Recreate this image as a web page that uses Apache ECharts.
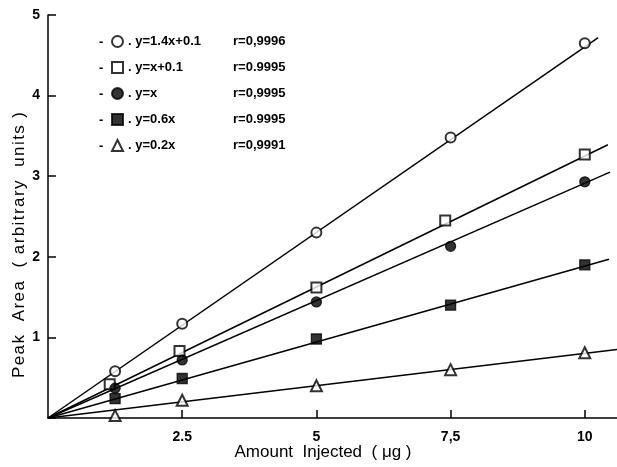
<!DOCTYPE html>
<html>
<head>
<meta charset="utf-8">
<script src="https://cdn.jsdelivr.net/npm/echarts@6/dist/echarts.min.js"></script>
<style>
  html, body { margin: 0; padding: 0; background: #fff; }
  #chart { width: 617px; height: 467px; }
</style>
</head>
<body>
<div id="chart"></div>
<script>
// x ticks and labels
const xTicks = [2.5, 5, 7.5, 10]
const xTickLabels = ['2.5', '5', '7,5', '10']
const yTickLabels = ['1', '2', '3', '4', '5']

// measured points, one array per series
const circleX = [1.25, 2.5, 5, 7.5, 10]
const circleY = [0.58, 1.17, 2.3, 3.48, 4.65]
const squareX = [1.15, 2.45, 5, 7.4, 10]
const squareY = [0.42, 0.83, 1.62, 2.45, 3.27]
const dotX = [1.25, 2.5, 5, 7.5, 10]
const dotY = [0.37, 0.72, 1.44, 2.13, 2.93]
const fsquareX = [1.25, 2.5, 5, 7.5, 10]
const fsquareY = [0.24, 0.49, 0.98, 1.4, 1.9]
const triX = [1.25, 2.5, 5, 7.5, 10]
const triY = [0.03, 0.22, 0.4, 0.6, 0.81]

// fitted lines: start and end points
const circleFit = [[0, 0], [10.25, 4.72]]
const squareFit = [[0, 0], [10.43, 3.39]]
const dotFit = [[0, 0], [10.47, 3.05]]
const fsquareFit = [[0, 0], [10.45, 1.97]]
const triFit = [[0, 0], [10.6, 0.85]]

// legend texts
const equations = ['y=1.4x+0.1', 'y=x+0.1', 'y=x', 'y=0.6x', 'y=0.2x']
const rValues = ['r=0,9996', 'r=0.9995', 'r=0,9995', 'r=0.9995', 'r=0,9991']

const symbols = ['emptyCircle', 'emptyRect', 'circle', 'rect', 'emptyTriangle']
const pointSets = [
  [circleX, circleY],
  [squareX, squareY],
  [dotX, dotY],
  [fsquareX, fsquareY],
  [triX, triY],
]
const fits = [circleFit, squareFit, dotFit, fsquareFit, triFit]

const font = '"Liberation Sans", Arial, sans-serif'

const series = []
fits.forEach((fit, i) => {
  series.push({
    name: 'fit' + i,
    type: 'line',
    data: fit,
    symbol: 'none',
    lineStyle: { color: '#000', width: 1.5 },
    z: 2,
    silent: true,
  })
})
pointSets.forEach(([xs, ys], i) => {
  series.push({
    name: equations[i],
    type: 'scatter',
    data: xs.map((x, j) => [x, ys[j]]),
    symbol: symbols[i],
    symbolSize: i === 4 ? 11 : 10,
    itemStyle: { color: '#000', borderColor: '#000', borderWidth: 1.3 },
    z: 3,
  })
})

const myChart = echarts.init(document.getElementById('chart'))

const option = {
  backgroundColor: '#fff',
  animation: false,
  textStyle: { fontFamily: font },
  grid: { left: 48, right: 0, top: 15, bottom: 49 },
  legend: {
    data: equations,
    orient: 'vertical',
    left: 106,
    top: 30,
    itemWidth: 11,
    itemHeight: 11,
    itemGap: 13,
    itemStyle: { color: '#000', borderColor: '#000' },
    formatter: (name) => {
      const i = equations.indexOf(name)
      return `{a|. ${name}}{b|${rValues[i]}}`
    },
    textStyle: {
      rich: {
        a: { width: 105, fontSize: 13, lineHeight: 13, fontWeight: 'bold', color: '#000', fontFamily: font },
        b: { fontSize: 13, lineHeight: 13, fontWeight: 'bold', color: '#000', fontFamily: font },
      },
    },
  },
  graphic: [
    {
      // small dashes in front of the legend symbols
      type: 'text',
      x: 99,
      y: 29,
      style: {
        text: '-\n-\n-\n-\n-',
        fill: '#000',
        font: 'bold 13px ' + font,
        lineHeight: 26,
      },
    },
    {
      type: 'text',
      x: 19,
      y: 245,
      rotation: Math.PI / 2,
      style: {
        text: 'Peak  Area  ( arbitrary  units )'.split('').join('\u200A'),
        fill: '#000',
        font: '17px ' + font,
        align: 'center',
        verticalAlign: 'middle',
      },
    },
    {
      type: 'text',
      x: 323,
      y: 452,
      style: {
        text: 'Amount  Injected  ( μg )',
        fill: '#000',
        font: '17px ' + font,
        align: 'center',
        verticalAlign: 'middle',
      },
    },
  ],
  xAxis: {
    type: 'value',
    min: 0,
    max: 10.6,
    axisLine: { lineStyle: { color: '#000', width: 1.5 } },
    axisTick: {
      inside: true,
      length: 8,
      lineStyle: { color: '#000', width: 1.5 },
      customValues: xTicks,
    },
    axisLabel: {
      color: '#000',
      fontWeight: 'bold',
      fontSize: 14,
      margin: 12,
      customValues: xTicks,
      formatter: (v) => {
        const i = xTicks.indexOf(v)
        return i >= 0 ? xTickLabels[i] : ''
      },
    },
    splitLine: { show: false },
  },
  yAxis: {
    type: 'value',
    min: 0,
    max: 5,
    interval: 1,
    axisLine: { show: true, lineStyle: { color: '#000', width: 1.5 } },
    axisTick: { show: true, inside: true, length: 8, lineStyle: { color: '#000', width: 1.5 } },
    axisLabel: {
      color: '#000',
      fontWeight: 'bold',
      fontSize: 14,
      margin: 8,
      formatter: (v) => (v === 0 ? '' : yTickLabels[v - 1]),
    },
    splitLine: { show: false },
  },
  series: series,
}

myChart.setOption(option)

window.addEventListener('resize', () => {
  myChart.resize()
})
</script>
</body>
</html>
